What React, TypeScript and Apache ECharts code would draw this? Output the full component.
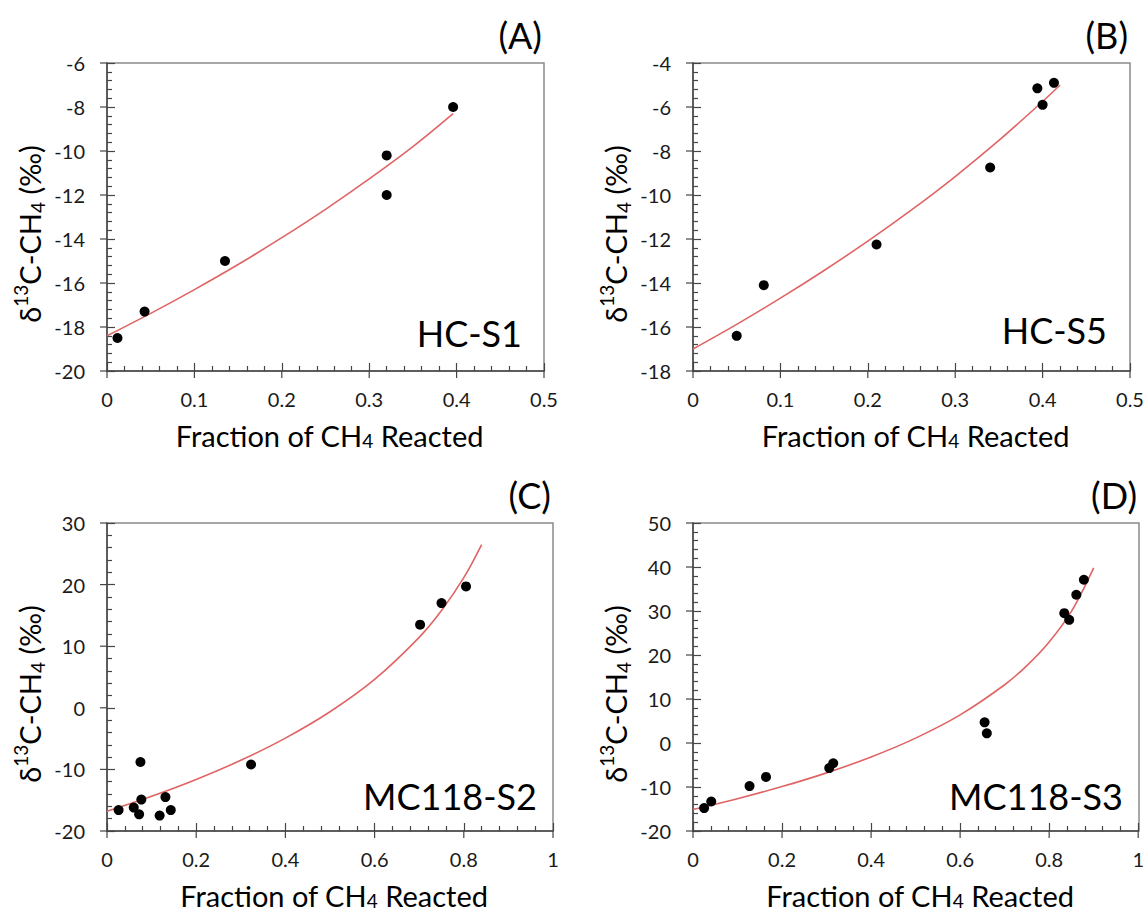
import React, { useEffect, useRef } from "react";
import * as echarts from "echarts";

// ---- Panel A: HC-S1 ----
const fracA = [0.012, 0.043, 0.135, 0.32, 0.32, 0.396];
const d13cA = [-18.5, -17.3, -15.0, -10.2, -12.0, -8.0];
const fitFracA = [0, 0.05, 0.1, 0.15, 0.2, 0.25, 0.3, 0.35, 0.396];
const fitD13cA = [-18.4, -17.38, -16.3, -15.16, -13.94, -12.65, -11.27, -9.8, -8.3];

// ---- Panel B: HC-S5 ----
const fracB = [0.05, 0.081, 0.21, 0.34, 0.394, 0.4, 0.413];
const d13cB = [-16.4, -14.1, -12.25, -8.75, -5.15, -5.9, -4.9];
const fitFracB = [0, 0.05, 0.1, 0.15, 0.2, 0.25, 0.3, 0.35, 0.4, 0.42];
const fitD13cB = [-17.0, -15.88, -14.69, -13.43, -12.1, -10.68, -9.16, -7.52, -5.75, -5.0];

// ---- Panel C: MC118-S2 ----
const fracC = [0.026, 0.06, 0.072, 0.077, 0.075, 0.118, 0.131, 0.143, 0.323, 0.702, 0.75, 0.805];
const d13cC = [-16.6, -16.2, -17.3, -14.9, -8.8, -17.5, -14.5, -16.6, -9.2, 13.5, 17.0, 19.7];
const fitFracC = [0, 0.1, 0.2, 0.3, 0.4, 0.5, 0.6, 0.7, 0.75, 0.8, 0.84];
const fitD13cC = [-16.8, -14.36, -11.63, -8.52, -4.92, -0.64, 4.61, 11.44, 15.78, 21.12, 26.5];

// ---- Panel D: MC118-S3 ----
const fracD = [0.025, 0.041, 0.127, 0.164, 0.306, 0.315, 0.655, 0.66, 0.834, 0.845, 0.861, 0.878];
const d13cD = [-14.8, -13.3, -9.8, -7.7, -5.7, -4.6, 4.7, 2.2, 29.5, 28.0, 33.7, 37.1];
const fitFracD = [0, 0.1, 0.2, 0.3, 0.4, 0.5, 0.6, 0.7, 0.75, 0.8, 0.85, 0.9];
const fitD13cD = [-15.1, -12.65, -9.91, -6.79, -3.18, 1.11, 6.39, 13.24, 17.6, 22.96, 29.91, 39.8];

// axis ranges: [min, max, interval]
const xRangeA = [0, 0.5, 0.1];
const yRangeA = [-20, -6, 2];
const xRangeB = [0, 0.5, 0.1];
const yRangeB = [-18, -4, 2];
const xRangeC = [0, 1, 0.2];
const yRangeC = [-20, 30, 10];
const xRangeD = [0, 1, 0.2];
const yRangeD = [-20, 50, 10];
const minorSplits = 5;

const panelTags = ["(A)", "(B)", "(C)", "(D)"];
const sampleNames = ["HC-S1", "HC-S5", "MC118-S2", "MC118-S3"];

const FONT = "Lato, sans-serif";
const AXIS_COLOR = "#454545";
const BORDER_COLOR = "#8a8a8a";
const FIT_COLOR = "#e06464";

const zip = (a: number[], b: number[]) => a.map((v, i) => [v, b[i]]);

function majorValues(r: number[]) {
  const out: number[] = [];
  const n = Math.round((r[1] - r[0]) / r[2]);
  for (let k = 0; k <= n; k++) out.push(r[0] + k * r[2]);
  return out;
}

export default function App() {
  const ref = useRef<HTMLDivElement>(null);

  useEffect(() => {
    const chart = echarts.init(ref.current!, null, { renderer: "svg" });

    const layouts = [
      { left: 107, top: 63, width: 437, height: 308 },
      { left: 693, top: 63, width: 437, height: 308 },
      { left: 107, top: 523, width: 446, height: 308 },
      { left: 693, top: 523, width: 446, height: 308 },
    ];
    const panels = [
      { xr: xRangeA, yr: yRangeA, pts: zip(fracA, d13cA), fit: zip(fitFracA, fitD13cA), nameRight: 522, nameY: 333 },
      { xr: xRangeB, yr: yRangeB, pts: zip(fracB, d13cB), fit: zip(fitFracB, fitD13cB), nameRight: 1107, nameY: 330 },
      { xr: xRangeC, yr: yRangeC, pts: zip(fracC, d13cC), fit: zip(fitFracC, fitD13cC), nameRight: 537, nameY: 796 },
      { xr: xRangeD, yr: yRangeD, pts: zip(fracD, d13cD), fit: zip(fitFracD, fitD13cD), nameRight: 1123, nameY: 796 },
    ];

    const grids: any[] = [];
    const xAxes: any[] = [];
    const yAxes: any[] = [];
    const series: any[] = [];
    const graphics: any[] = [];

    const makeAxis = (i: number, r: number[], pos: string, margin: number) => ({
      type: "value",
      gridIndex: i,
      position: pos,
      min: r[0],
      max: r[1],
      interval: r[2],
      splitLine: { show: false },
      axisLine: { show: true, onZero: false, lineStyle: { color: AXIS_COLOR, width: 1.5 } },
      axisTick: { show: true, inside: true, length: 8, lineStyle: { color: AXIS_COLOR, width: 1.2 } },
      minorTick: { show: true, splitNumber: minorSplits, length: 5, lineStyle: { color: AXIS_COLOR, width: 1.2 } },
      axisLabel: { fontSize: 20, color: "#1a1a1a", fontFamily: FONT, margin },
    });

    panels.forEach((p, i) => {
      const L = layouts[i];
      grids.push({ left: L.left, top: L.top, width: L.width, height: L.height, show: false });
      xAxes.push(makeAxis(i, p.xr, "bottom", 18));
      yAxes.push(makeAxis(i, p.yr, "left", 22));

      // outer half of the crossing major ticks
      const xTicks = majorValues(p.xr).map((v) => [v, p.yr[0]]);
      series.push({
        type: "custom",
        xAxisIndex: i,
        yAxisIndex: i,
        clip: false,
        encode: { x: 0, y: 1 },
        data: xTicks,
        renderItem: (_params: any, api: any) => {
          const c = api.coord([api.value(0), api.value(1)]);
          return { type: "rect", shape: { x: c[0] - 0.6, y: c[1], width: 1.2, height: 7 }, style: { fill: AXIS_COLOR } };
        },
      });
      const yTicks = majorValues(p.yr).map((v) => [p.xr[0], v]);
      series.push({
        type: "custom",
        xAxisIndex: i,
        yAxisIndex: i,
        clip: false,
        encode: { x: 0, y: 1 },
        data: yTicks,
        renderItem: (_params: any, api: any) => {
          const c = api.coord([api.value(0), api.value(1)]);
          return { type: "rect", shape: { x: c[0] - 7, y: c[1] - 0.6, width: 7, height: 1.2 }, style: { fill: AXIS_COLOR } };
        },
      });

      // fitted curve through the read points
      const fit = p.fit;
      series.push({
        type: "custom",
        xAxisIndex: i,
        yAxisIndex: i,
        clip: false,
        encode: { x: 0, y: 1 },
        data: fit,
        z: 2,
        renderItem: (params: any, api: any) => {
          if (params.dataIndex !== 0) return null;
          const points = fit.map((d) => api.coord(d));
          return {
            type: "polyline",
            shape: { points, smooth: 0.35 },
            style: { stroke: FIT_COLOR, lineWidth: 1.6, fill: "none" },
          };
        },
      });

      series.push({
        type: "scatter",
        xAxisIndex: i,
        yAxisIndex: i,
        data: p.pts,
        symbol: "circle",
        symbolSize: 10,
        itemStyle: { color: "#000000", opacity: 1 },
        z: 3,
      });

      // plot frame
      graphics.push({
        type: "rect",
        shape: { x: L.left, y: L.top, width: L.width, height: L.height },
        style: { fill: "none", stroke: BORDER_COLOR, lineWidth: 1.5 },
      });

      const right = L.left + L.width;
      graphics.push({
        type: "text",
        x: right - 2,
        y: L.top - 28,
        style: { text: panelTags[i], fontSize: 36, fontFamily: FONT, fill: "#000", align: "right", verticalAlign: "middle" },
      });
      graphics.push({
        type: "text",
        x: p.nameRight,
        y: p.nameY,
        style: { text: sampleNames[i], fontSize: 36, fontFamily: FONT, fill: "#000", align: "right", verticalAlign: "middle" },
      });
      graphics.push({
        type: "text",
        x: L.left + L.width / 2 + 4,
        y: L.top + L.height + 64,
        style: {
          text: "{a|Fraction of CH}{s|4}{a| Reacted}",
          align: "center",
          verticalAlign: "middle",
          rich: {
            a: { fontSize: 29, fontFamily: FONT, fill: "#000", lineHeight: 30 },
            s: { fontSize: 19, fontFamily: FONT, fill: "#000", verticalAlign: "bottom", lineHeight: 12 },
          },
        },
      });
      graphics.push({
        type: "text",
        x: L.left - 78,
        y: L.top + L.height / 2 + 17,
        rotation: Math.PI / 2,
        style: {
          text: "{a|δ}{p|13}{a|C-CH}{s|4}{a| (‰)}",
          align: "center",
          verticalAlign: "middle",
          rich: {
            a: { fontSize: 29, fontFamily: FONT, fill: "#000", lineHeight: 36 },
            p: { fontSize: 19, fontFamily: FONT, fill: "#000", verticalAlign: "top", lineHeight: 16 },
            s: { fontSize: 19, fontFamily: FONT, fill: "#000", verticalAlign: "bottom", lineHeight: 14 },
          },
        },
      });
    });

    chart.setOption({
      animation: false,
      grid: grids,
      xAxis: xAxes,
      yAxis: yAxes,
      series,
      graphic: graphics,
    });

    return () => chart.dispose();
  }, []);

  return (
    <div
      ref={ref}
      style={{ position: "fixed", left: 0, top: 0, width: 1147, height: 911, background: "#fff" }}
    />
  );
}
